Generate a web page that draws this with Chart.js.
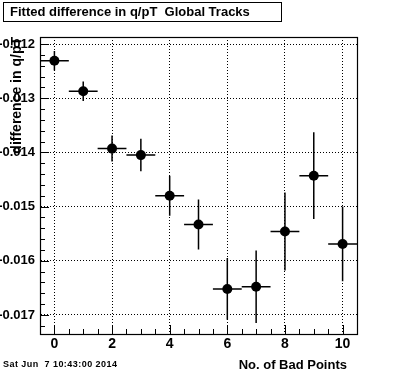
<!DOCTYPE html>
<html>
<head>
<meta charset="utf-8">
<script src="https://cdn.jsdelivr.net/npm/chart.js@4"></script>
<style>
  body { margin: 0; background: #fff; }
  #wrap { position: relative; width: 396px; height: 372px; font-family: 'Liberation Sans', Arial, sans-serif; font-weight: bold; color: #000; }
  #myChart { position: absolute; left: 0; top: 0; }
  .lbl { position: absolute; white-space: pre; }
  #title { left: 3px; top: 2px; width: 279px; height: 20px; box-sizing: border-box; border: 1px solid #000; padding-left: 6px; font-size: 13px; line-height: 18px; }
  #xtitle { right: 49px; top: 358px; font-size: 13px; line-height: 13px; }
  #stamp { left: 3px; top: 360px; font-size: 9px; line-height: 9px; letter-spacing: 0.45px; }
</style>
</head>
<body>
<div id="wrap">
  <canvas id="myChart" width="396" height="372"></canvas>
  <div class="lbl" id="title">Fitted difference in q/pT  Global Tracks</div>
  <div class="lbl" id="xtitle">No. of Bad Points</div>
  <div class="lbl" id="stamp">Sat Jun  7 10:43:00 2014</div>
</div>
<script>
// datos
const badPoints = [0, 1, 2, 3, 4, 5, 6, 7, 8, 9, 10];
const diffQpt = [-0.01231, -0.01287, -0.01393, -0.01405, -0.01480, -0.01533, -0.01652, -0.01648, -0.01546, -0.01443, -0.01569];
const diffErr = [0.00018, 0.00018, 0.00024, 0.00030, 0.00037, 0.00046, 0.00057, 0.00067, 0.00072, 0.00080, 0.00069];
const binHalfWidth = 0.5;
const xTicks = [0, 2, 4, 6, 8, 10];
const yTicks = [-0.017, -0.016, -0.015, -0.014, -0.013, -0.012];

// marco, marcas de eje y barras de error
const rootDecor = {
    id: 'rootDecor',
    beforeDatasetsDraw(chart) {
        const { ctx, chartArea: a, scales: { x, y } } = chart;
        ctx.save();
        ctx.strokeStyle = '#000';
        ctx.lineWidth = 1;

        // marcas menores y mayores
        ctx.beginPath();
        const xs = 0.5, ys = 0.0002;
        for (let i = Math.ceil(x.min / xs); i <= Math.floor(x.max / xs); i++) {
            const v = i * xs;
            const px = Math.round(x.getPixelForValue(v)) + 0.5;
            const len = xTicks.includes(v) ? 9 : 5;
            ctx.moveTo(px, a.bottom);
            ctx.lineTo(px, a.bottom - len);
        }
        for (let i = Math.ceil(y.min / ys - 1e-6); i <= Math.floor(y.max / ys + 1e-6); i++) {
            const v = i * ys;
            const py = Math.round(y.getPixelForValue(v)) + 0.5;
            const major = yTicks.some(t => Math.abs(t - v) < 1e-7);
            ctx.moveTo(a.left, py);
            ctx.lineTo(a.left + (major ? 9 : 5), py);
        }
        ctx.stroke();

        // barras de error
        ctx.lineWidth = 1.5;
        ctx.beginPath();
        badPoints.forEach((b, i) => {
            const cx = x.getPixelForValue(b);
            const cy = y.getPixelForValue(diffQpt[i]);
            ctx.moveTo(x.getPixelForValue(b - binHalfWidth), cy);
            ctx.lineTo(x.getPixelForValue(b + binHalfWidth), cy);
            ctx.moveTo(cx, y.getPixelForValue(diffQpt[i] + diffErr[i]));
            ctx.lineTo(cx, y.getPixelForValue(diffQpt[i] - diffErr[i]));
        });
        ctx.stroke();

        // marco
        ctx.lineWidth = 1.2;
        ctx.strokeRect(Math.round(a.left) + 0.5, Math.round(a.top) + 0.5, Math.round(a.right - a.left), Math.round(a.bottom - a.top));
        ctx.restore();
    }
};

Chart.defaults.font.family = "'Liberation Sans', Arial, sans-serif";
Chart.defaults.color = '#000';

const ctx = document.getElementById('myChart').getContext('2d');
const myChart = new Chart(ctx, {
    type: 'scatter',
    data: {
        datasets: [{
            label: 'difference in q/pT',
            data: badPoints.map((b, i) => ({ x: b, y: diffQpt[i] })),
            backgroundColor: '#000',
            borderColor: '#000',
            borderWidth: 0,
            pointRadius: 5,
            pointHoverRadius: 5
        }]
    },
    options: {
        responsive: false,
        animation: false,
        events: [],
        layout: { padding: { top: 37, right: 39, left: 0, bottom: 0 } },
        plugins: {
            legend: { display: false },
            tooltip: { enabled: false }
        },
        scales: {
            x: {
                type: 'linear',
                min: -0.5,
                max: 10.5,
                afterBuildTicks: s => { s.ticks = xTicks.map(v => ({ value: v })); },
                afterFit: s => { s.height = 38; },
                grid: { color: '#000', lineWidth: 1, drawTicks: false },
                border: { display: true, color: '#000', width: 1, dash: [1, 2] },
                ticks: { color: '#000', autoSkip: false, maxRotation: 0, padding: 2, font: { size: 14, weight: 'bold' } }
            },
            y: {
                type: 'linear',
                min: -0.017352,
                max: -0.01187,
                afterBuildTicks: s => { s.ticks = yTicks.map(v => ({ value: v })); },
                afterFit: s => { s.width = 40; },
                grid: { color: '#000', lineWidth: 1, drawTicks: false },
                border: { display: true, color: '#000', width: 1, dash: [1, 2] },
                ticks: {
                    color: '#000', autoSkip: false, padding: 5,
                    font: { size: 13, weight: 'bold' },
                    callback: v => v.toFixed(3)
                },
                title: {
                    display: true,
                    text: 'difference in q/pT',
                    align: 'end',
                    color: '#000',
                    font: { size: 14, weight: 'bold' },
                    padding: { top: 9, bottom: 0 }
                }
            }
        }
    },
    plugins: [rootDecor]
});
</script>
</body>
</html>
